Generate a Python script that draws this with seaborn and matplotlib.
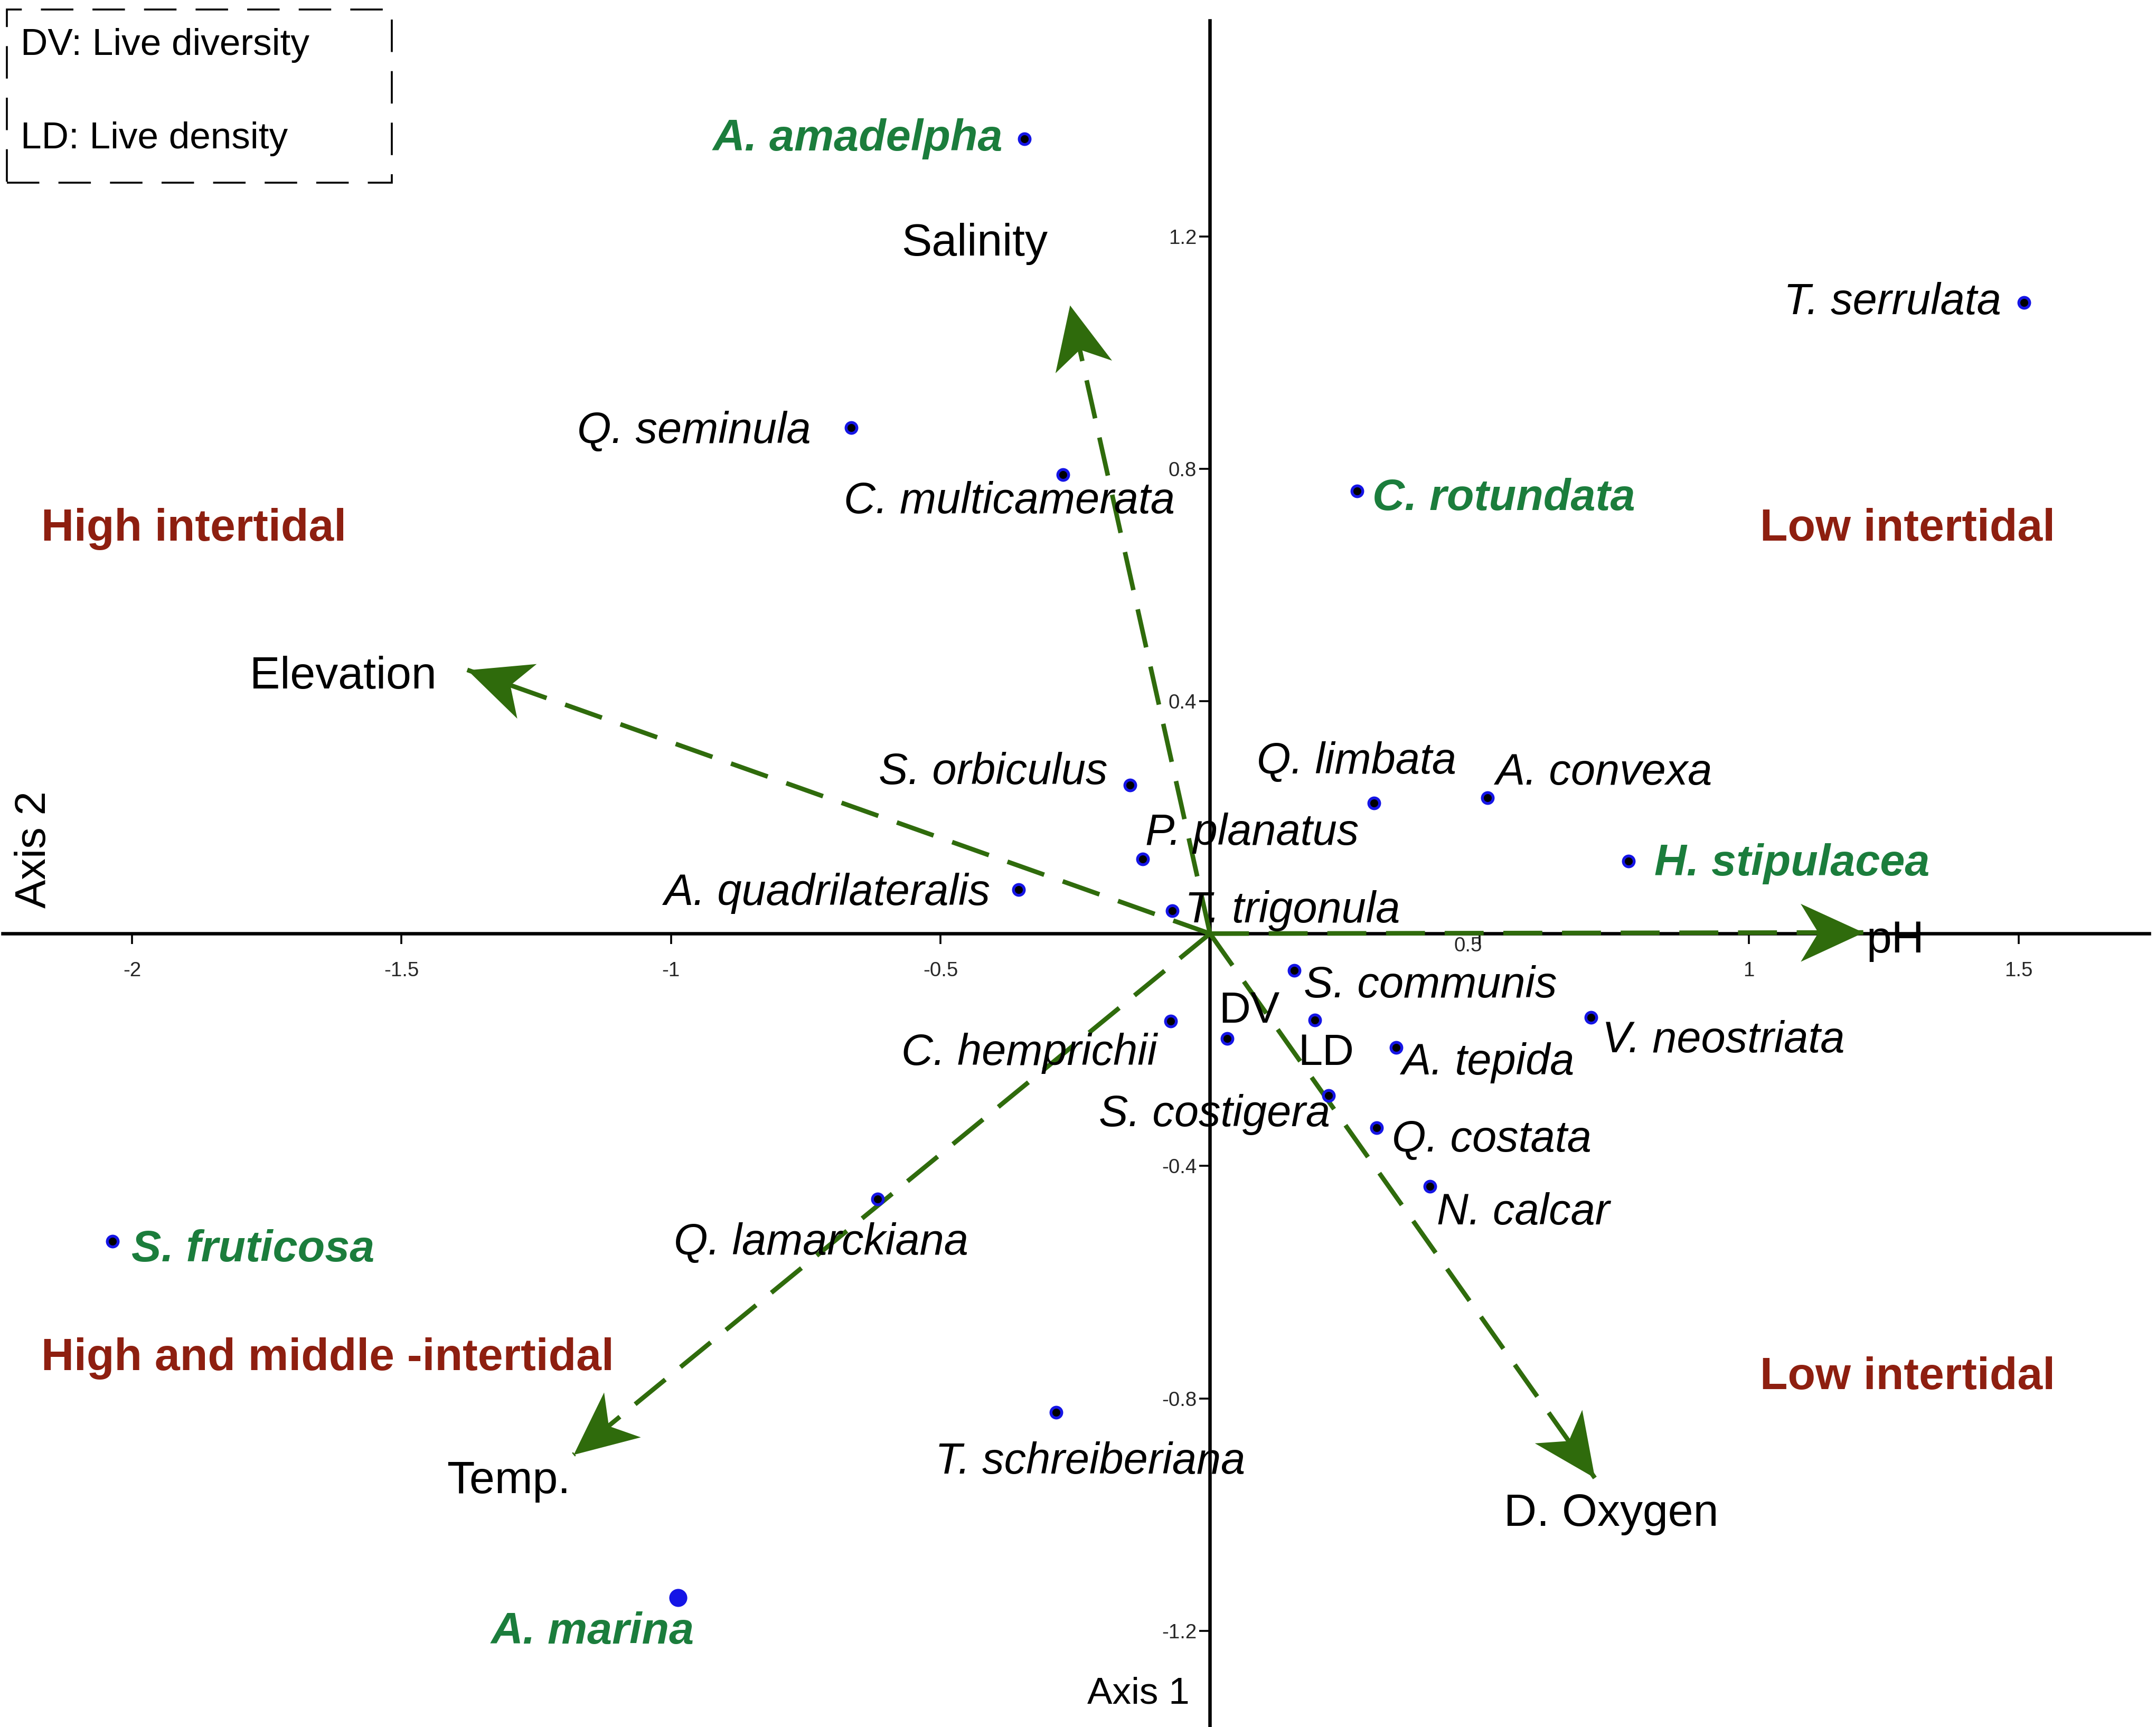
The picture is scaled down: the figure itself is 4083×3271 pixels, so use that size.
import numpy as np
import pandas as pd
import matplotlib
matplotlib.use("Agg")
import matplotlib.pyplot as plt
import seaborn as sns
from matplotlib import font_manager
from matplotlib.path import Path
from matplotlib.markers import MarkerStyle
from matplotlib.transforms import Affine2D, ScaledTranslation
from matplotlib.patches import Rectangle

# species / index scores on the two ordination axes
species = ["A. amadelpha", "T. serrulata", "Q. seminula", "C. multicamerata",
           "C. rotundata", "S. orbiculus", "Q. limbata", "A. convexa",
           "P. planatus", "H. stipulacea", "A. quadrilateralis", "T. trigonula",
           "S. communis", "DV", "LD", "C. hemprichii", "V. neostriata",
           "A. tepida", "S. costigera", "Q. costata", "N. calcar",
           "Q. lamarckiana", "S. fruticosa", "T. schreiberiana", "A. marina"]
axis1 = [-0.344, 1.510, -0.666, -0.273, 0.273, -0.148, 0.304, 0.515,
         -0.125, 0.776, -0.355, -0.070, 0.156, 0.032, 0.194, -0.073, 0.707,
         0.345, 0.220, 0.309, 0.408, -0.617, -2.036, -0.286, -0.987]
axis2 = [1.368, 1.086, 0.871, 0.790, 0.762, 0.256, 0.225, 0.234,
         0.128, 0.125, 0.076, 0.039, -0.063, -0.181, -0.149, -0.151, -0.144,
         -0.196, -0.279, -0.334, -0.435, -0.457, -0.530, -0.824, -1.143]
group = ["plant", "foram", "foram", "foram", "plant", "foram", "foram", "foram",
         "foram", "plant", "foram", "foram", "foram", "index", "index", "foram",
         "foram", "foram", "foram", "foram", "foram", "foram", "plant", "foram",
         "plant"]

# environmental vectors (arrow tips)
env_names = ["Salinity", "Elevation", "pH", "Temp.", "D. Oxygen"]
env_x = [-0.260, -1.378, 1.212, -1.181, 0.714]
env_y = [1.082, 0.454, 0.002, -0.897, -0.937]

regions = ["High intertidal", "Low intertidal", "High and middle -intertidal", "Low intertidal"]
region_x = [-2.168, 1.020, -2.168, 1.020]
region_y = [0.696, 0.696, -0.731, -0.764]

xticks = [-2, -1.5, -1, -0.5, 0.5, 1, 1.5]
xticklabels = ["-2", "-1.5", "-1", "-0.5", "0.5", "1", "1.5"]
yticks = [-1.2, -0.8, -0.4, 0.4, 0.8, 1.2]
yticklabels = ["-1.2", "-0.8", "-0.4", "0.4", "0.8", "1.2"]

# label placement (offset points from the mark, alignment)
LABEL_OFFSETS = {
    "A. amadelpha": (-11.5, 0, "right"),
    "T. serrulata": (-12, 0, "right"),
    "Q. seminula": (-21, -2, "right"),
    "C. multicamerata": (-28, -14, "center"),
    "C. rotundata": (8, -4, "left"),
    "S. orbiculus": (-12, 6.5, "right"),
    "Q. limbata": (-9, 21.5, "center"),
    "A. convexa": (4, 13, "left"),
    "P. planatus": (1.5, 13.7, "left"),
    "H. stipulacea": (13.7, -1.4, "left"),
    "A. quadrilateralis": (-15, -2, "right"),
    "T. trigonula": (6.5, 0, "left"),
    "S. communis": (5, -8, "left"),
    "DV": (-4.3, 14.4, "left"),
    "LD": (-8.6, -17.3, "left"),
    "C. hemprichii": (-7.2, -16.6, "right"),
    "V. neostriata": (5.8, -12.2, "left"),
    "A. tepida": (3, -8, "left"),
    "S. costigera": (0.7, -10, "right"),
    "Q. costata": (8, -6.5, "left"),
    "N. calcar": (3.6, -13.7, "left"),
    "Q. lamarckiana": (-29.5, -23, "center"),
    "S. fruticosa": (10, -4.3, "left"),
    "T. schreiberiana": (18, -26, "center"),
    "A. marina": (-44.6, -18, "center"),
}
ENV_OFFSETS = {
    "Salinity": (-50, 32, "center"),
    "Elevation": (-65, -3.6, "center"),
    "pH": (1.5, -4.3, "left"),
    "Temp.": (-34, -14, "center"),
    "D. Oxygen": (8.6, -19, "center"),
}

GREEN_TXT = "#1b7d3c"
ARROW = "#2f6b0c"
RED = "#8e1f10"
BLUE = "#1515e6"

sns.set_theme(style="white")
try:
    font_manager.findfont(font_manager.FontProperties(family="Liberation Sans Narrow"),
                          fallback_to_default=False)
    FAM, K = "Liberation Sans Narrow", 1.0
except ValueError:
    FAM, K = "Liberation Sans", 0.82
plt.rcParams["font.family"] = [FAM, "DejaVu Sans"]

DPI = 260.4
fig = plt.figure(figsize=(4083 / DPI, 3271 / DPI), dpi=DPI, facecolor="white")
ax = fig.add_axes([0, 0, 1, 1 - 15 / 1256])
ax.set_xlim(-880 / 392, (1568 - 880) / 392)
ax.set_ylim((679 - 1256) / 422.5, (679 - 15) / 422.5)

# axes through the origin
for side in ["top", "right"]:
    ax.spines[side].set_visible(False)
for side in ["left", "bottom"]:
    ax.spines[side].set_position(("data", 0))
    ax.spines[side].set_color("black")
    ax.spines[side].set_linewidth(1.8)
    ax.spines[side].set_zorder(2)
ax.spines["bottom"].set_bounds(-2.24, 1.742)

ax.set_xticks(xticks)
ax.set_xticklabels(xticklabels)
ax.set_yticks(yticks)
ax.set_yticklabels(yticklabels)
ax.tick_params(axis="x", direction="out", length=5.5, width=1, color="black",
               pad=9, labelsize=13 * K)
ax.tick_params(axis="y", direction="out", length=5.5, width=1, color="black",
               pad=1.5, labelsize=13 * K)
ax.tick_params(bottom=True, left=True)
ax.grid(False)

# raise the 0.5 label as in the original
for lab in ax.get_xticklabels():
    if lab.get_text() == "0.5":
        lab.set_transform(lab.get_transform() +
                          ScaledTranslation(-6 / 72, 13 / 72, fig.dpi_scale_trans))

# environmental arrows
head = Path([(0, 0), (-1, 0.46), (-0.72, 0), (-1, -0.46), (0, 0)],
            [Path.MOVETO, Path.LINETO, Path.LINETO, Path.LINETO, Path.CLOSEPOLY])
p0 = ax.transData.transform((0, 0))
for name, ex, ey in zip(env_names, env_x, env_y):
    ax.plot([0, ex], [0, ey], color=ARROW, lw=2.4, dashes=(8.5, 4.3),
            dash_capstyle="butt", zorder=3)
    p1 = ax.transData.transform((ex, ey))
    theta = np.arctan2(p1[1] - p0[1], p1[0] - p0[0])
    m = MarkerStyle(head, transform=Affine2D().rotate(theta))
    ax.plot([ex], [ey], marker=m, ms=66, color=ARROW, mec=ARROW, mew=0,
            linestyle="none", zorder=4)
    dx, dy, ha = ENV_OFFSETS[name]
    ax.annotate(name, (ex, ey), xytext=(dx, dy), textcoords="offset points",
                ha=ha, va="center", fontsize=29 * K, color="black", zorder=6)

# species points
df = pd.DataFrame({"name": species, "axis1": axis1, "axis2": axis2, "group": group})
dots = df[df["name"] != "A. marina"]
sns.scatterplot(data=dots, x="axis1", y="axis2", ax=ax, color="black",
                edgecolor=BLUE, linewidth=1.5, s=32, zorder=5, legend=False)
big = df[df["name"] == "A. marina"]
sns.scatterplot(data=big, x="axis1", y="axis2", ax=ax, color=BLUE,
                edgecolor=BLUE, linewidth=0.5, s=80, zorder=5, legend=False)
ax.set_xlabel("")
ax.set_ylabel("")

for name, x, y, g in zip(species, axis1, axis2, group):
    dx, dy, ha = LABEL_OFFSETS[name]
    if g == "plant":
        kw = dict(color=GREEN_TXT, fontweight="bold", fontstyle="italic", fontsize=28.5 * K)
    elif g == "index":
        kw = dict(color="black", fontsize=28 * K)
    else:
        kw = dict(color="black", fontstyle="italic", fontsize=28 * K)
    ax.annotate(name, (x, y), xytext=(dx, dy), textcoords="offset points",
                ha=ha, va="center", zorder=6, **kw)

for name, x, y in zip(regions, region_x, region_y):
    ax.text(x, y, name, ha="left", va="center", color=RED, fontweight="bold",
            fontsize=29 * K, zorder=6)

# legend box and axis names
fig.patches.append(Rectangle((5 / 1568, 1 - 133 / 1256), 280 / 1568, 126 / 1256,
                             transform=fig.transFigure, fill=False, edgecolor="black",
                             lw=1.0, linestyle=(0, (17, 10)), zorder=10))
fig.text(15 / 1568, 1 - 33 / 1256, "DV: Live diversity", ha="left", va="center",
         fontsize=24 * K, color="black")
fig.text(15 / 1568, 1 - 101 / 1256, "LD: Live density", ha="left", va="center",
         fontsize=24 * K, color="black")
fig.text(25 / 1568, 1 - 618 / 1256, "Axis 2", rotation=90, ha="center", va="center",
         fontsize=22.5, family="Liberation Sans", color="black")
fig.text(828 / 1568, 1 - 1232 / 1256, "Axis 1", ha="center", va="center",
         fontsize=24 * K, color="black")

fig.savefig("out.png", dpi=DPI, facecolor="white")
